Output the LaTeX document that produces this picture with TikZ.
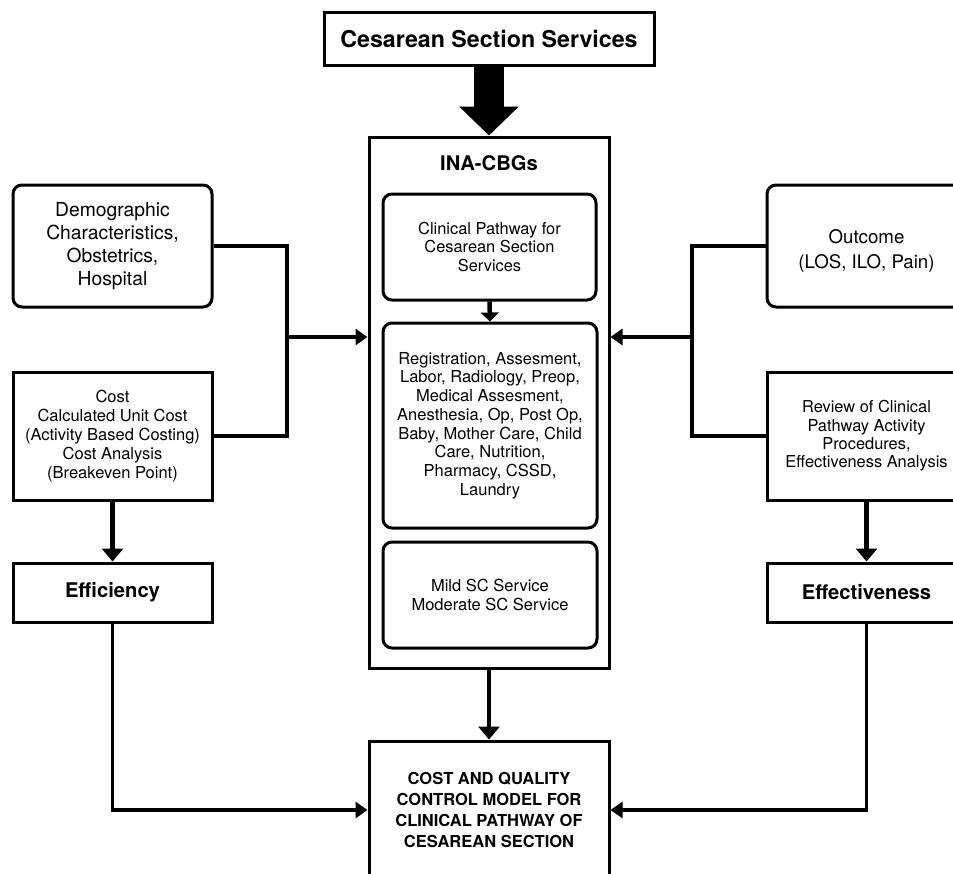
\documentclass[tikz,border=0pt]{standalone}
\usepackage{fontspec}
\setmainfont{TeX Gyre Heros}
\usetikzlibrary{arrows.meta}
\begin{document}
\begin{tikzpicture}[x=1pt,y=-1pt,
  box/.style={draw,line width=3pt,align=center,inner sep=0pt},
  rbox/.style={box,rounded corners=9pt},
  side/.style={minimum width=199pt},
  ftmid/.style={font=\fontsize{16.5}{18.7}\selectfont},
  ftbold/.style={font=\fontsize{20.2}{24}\selectfont\bfseries},
  conn/.style={line width=3.3pt},
  arr/.style={conn,-{Triangle[length=12pt,width=16pt]}},
  varr/.style={line width=4.5pt,-{Triangle[length=13pt,width=21pt]}}
]
\useasboundingbox (0,0) rectangle (953,873);
\clip (0,0) rectangle (953,873);
\fill[white] (0,0) rectangle (953,873);

% top
\node[box,minimum width=330pt,minimum height=53pt,font=\fontsize{23.2}{27}\selectfont\bfseries] (top) at (489,38.5) {Cesarean Section Services};

% central container
\node[box,minimum width=240pt,minimum height=531pt] (ina) at (489,402.5) {};
\node[font=\fontsize{20.2}{24}\selectfont\bfseries,inner sep=0pt] (inat) at (489,163) {INA-CBGs};
\node[rbox,minimum width=213pt,minimum height=106pt,font=\fontsize{16.4}{18.7}\selectfont] (cp) at (489.5,247) {Clinical Pathway for\\Cesarean Section\\Services};
\node[rbox,minimum width=214pt,minimum height=205pt,ftmid] (act) at (490,425.5) {Registration, Assesment,\\Labor, Radiology, Preop,\\Medical Assesment,\\Anesthesia, Op, Post Op,\\Baby, Mother Care, Child\\Care, Nutrition,\\Pharmacy, CSSD,\\Laundry};
\node[rbox,minimum width=214pt,minimum height=106pt,font=\fontsize{16.5}{18.3}\selectfont] (sc) at (490,595) {Mild SC Service\\Moderate SC Service};

% left side
\node[rbox,side,minimum height=122pt,font=\fontsize{19.3}{23}\selectfont] (demo) at (112.5,246) {Demographic\\Characteristics,\\Obstetrics,\\Hospital};
\node[box,side,minimum height=128pt,font=\fontsize{16.5}{19}\selectfont] (cost) at (112.5,436) {Cost\\Calculated Unit Cost\\(Activity Based Costing)\\Cost Analysis\\(Breakeven Point)};
\node[box,side,minimum height=59pt,ftbold] (eff) at (112.5,592.5) {Efficiency};

% right side
\node[rbox,side,minimum height=122pt,font=\fontsize{18.7}{25}\selectfont] (outc) at (866.5,246) {\rule{0pt}{24pt}Outcome\\(LOS, ILO, Pain)};
\node[box,side,minimum height=128pt,font=\fontsize{16.4}{18.3}\selectfont] (rev) at (866.5,436) {Review of Clinical\\Pathway Activity\\Procedures,\\Effectiveness Analysis};
\node[box,side,minimum height=59pt,ftbold] (effv) at (866.5,592.5) {Effectiveness};

% bottom
\node[box,minimum width=240pt,minimum height=138pt,font=\fontsize{16.5}{21}\selectfont\bfseries] (bot) at (489,810) {COST AND QUALITY\\CONTROL MODEL FOR\\CLINICAL PATHWAY OF\\CESAREAN SECTION};

% connectors
\coordinate (jL) at (287,337);
\coordinate (jR) at (692,337);

\draw[line width=30pt,-{Triangle[length=29pt,width=58pt]}] (top.south) -- (ina.north);
\draw[line width=4.5pt,-{Triangle[length=9pt,width=18pt]}] (cp.south) -- (act.north);

\draw[conn] (demo.east) -| (jL) |- (cost.east);
\draw[arr] (jL) -- (jL -| ina.west);
\draw[conn] (outc.west) -| (jR) |- (rev.west);
\draw[arr] (jR) -- (jR -| ina.east);

\draw[varr] (cost.south) -- (eff.north);
\draw[varr] (rev.south) -- (effv.north);
\draw[varr] (ina.south) -- (bot.north);

\draw[arr] (eff.south) |- (bot.west);
\draw[arr] (effv.south) |- (bot.east);
\end{tikzpicture}
\end{document}
